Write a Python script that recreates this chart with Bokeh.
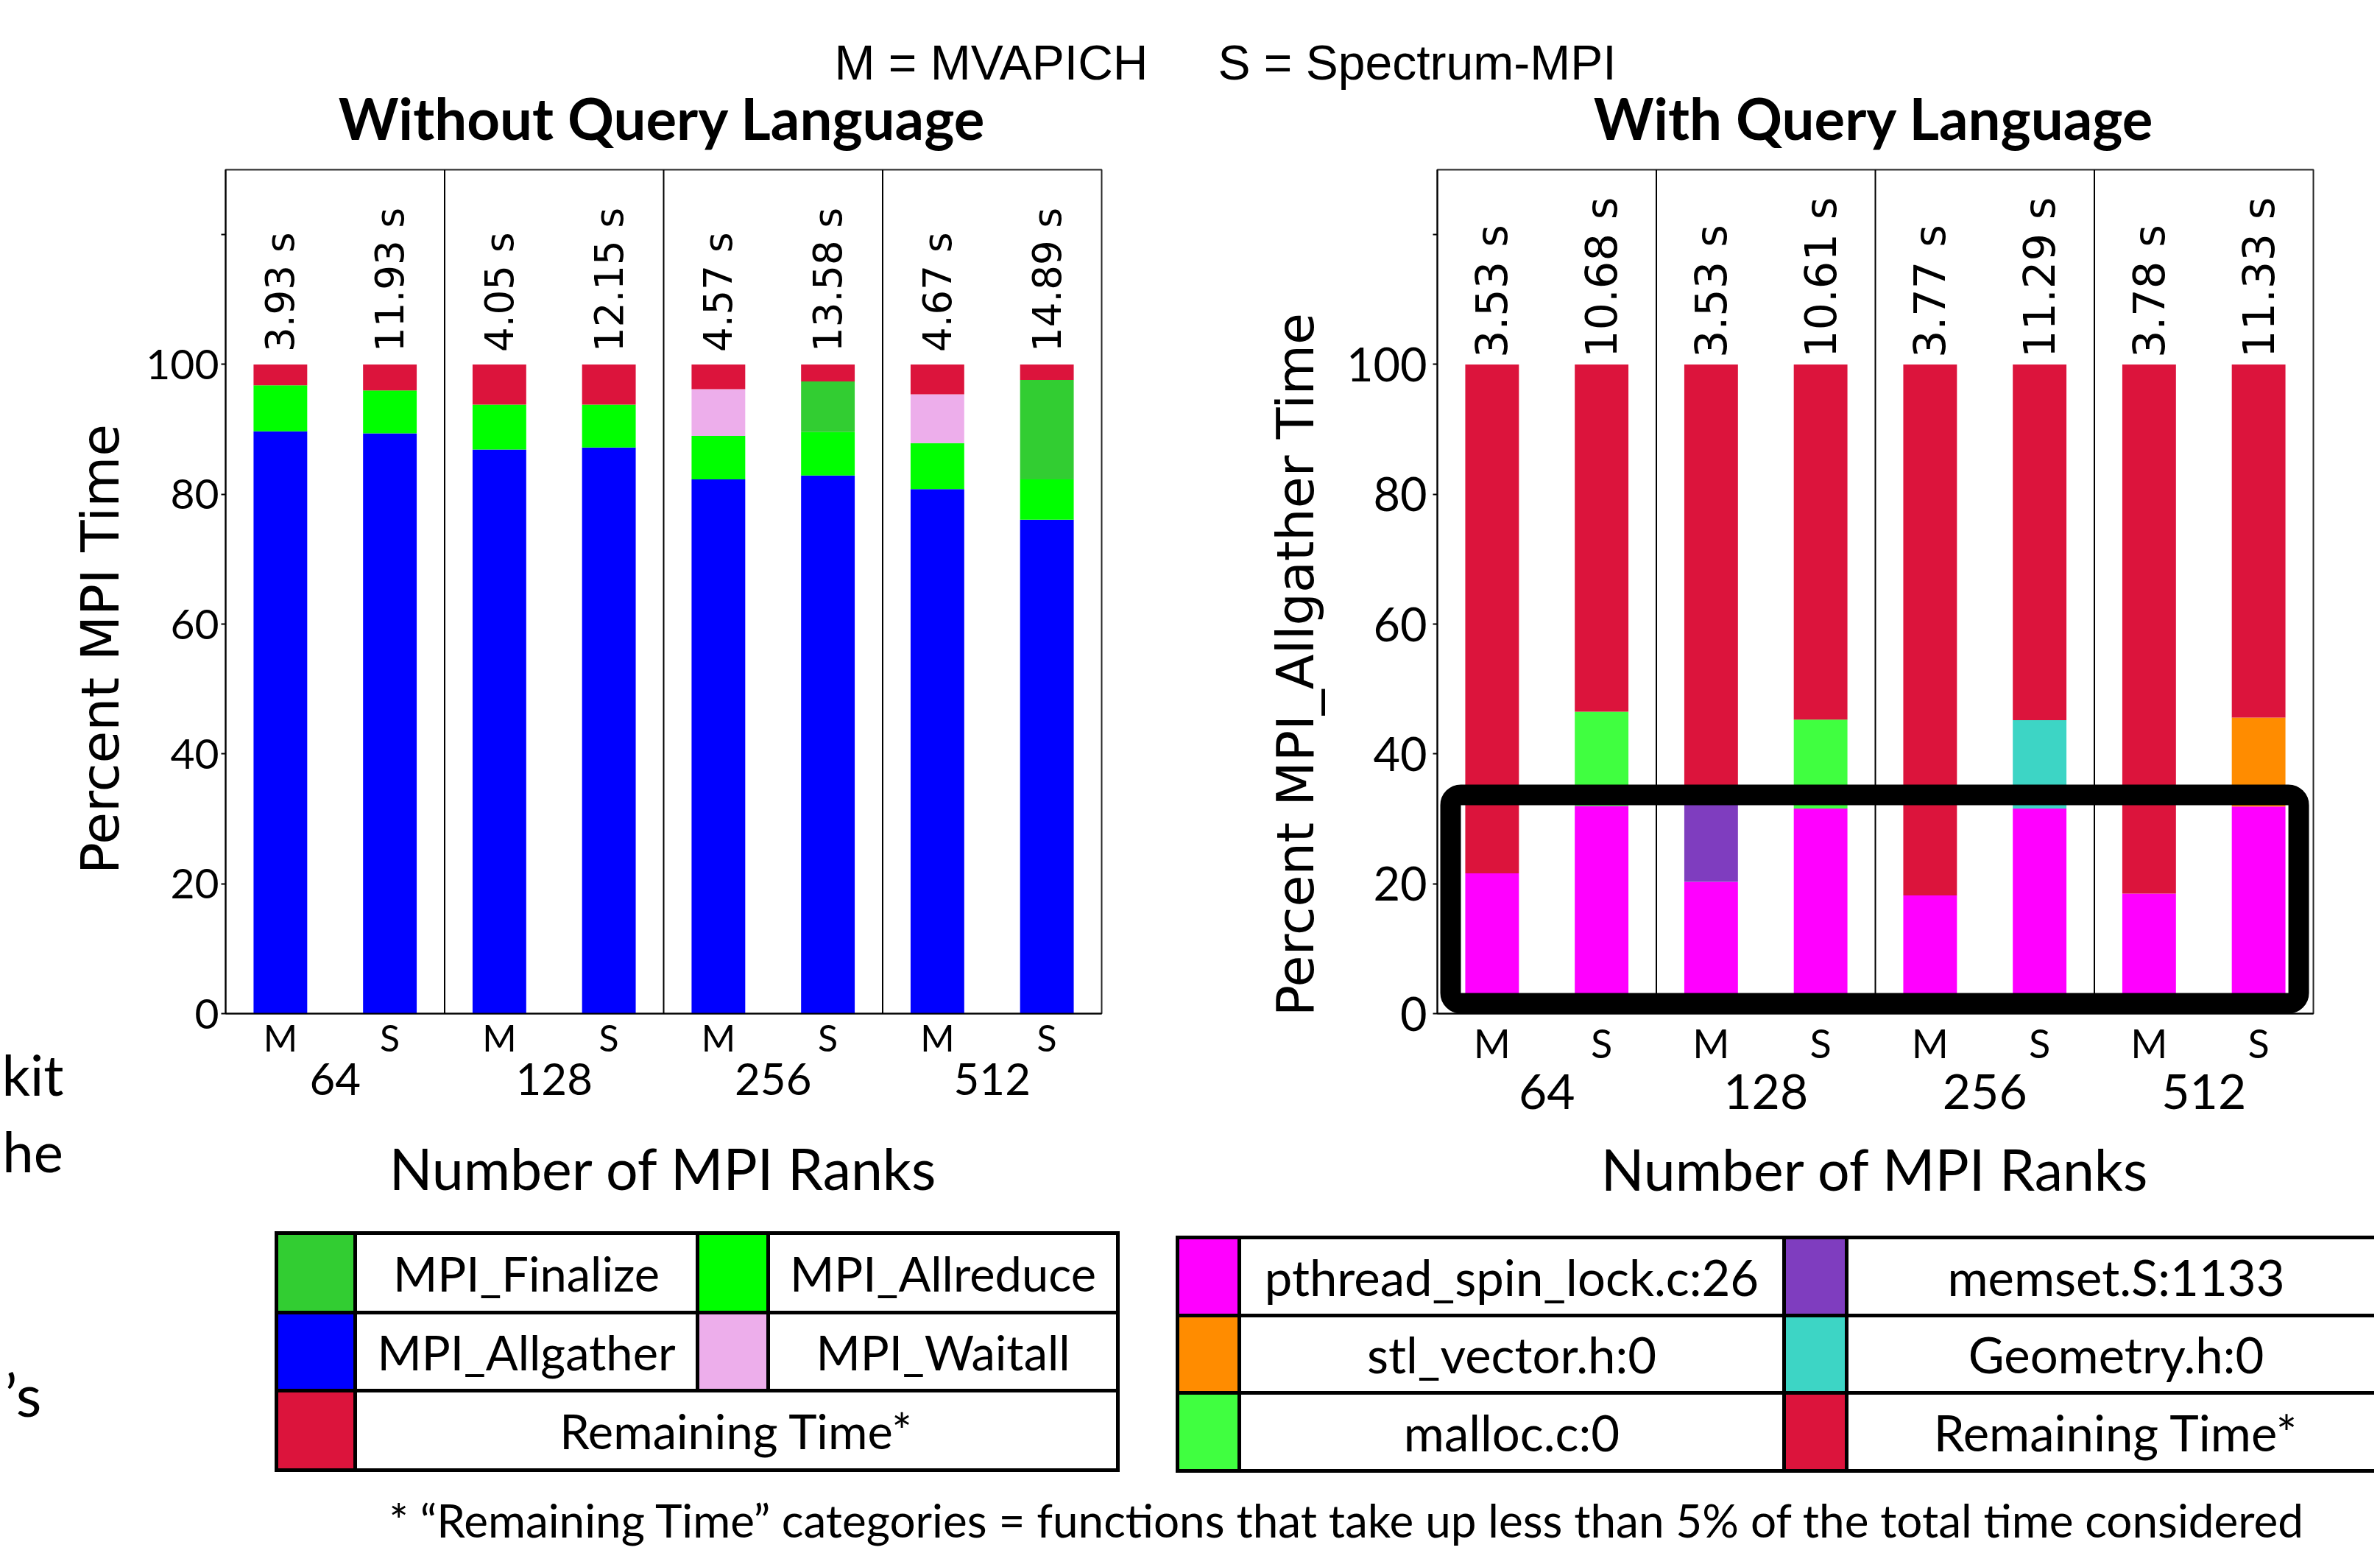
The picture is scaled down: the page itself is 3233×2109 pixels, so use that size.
import math
from bokeh.plotting import figure
from bokeh.models import ColumnDataSource, FactorRange, Range1d, Label, LinearAxis, FixedTicker
from bokeh.layouts import column, row
from bokeh.embed import file_html
from bokeh.resources import INLINE
from bokeh.core.properties import value

# ---------------- data ----------------
ranks = ["64", "128", "256", "512"]
impls = ["M", "S"]

no_ql_allgather = [89.7, 89.4, 86.9, 87.2, 82.3, 82.9, 80.8, 76.1]
no_ql_allreduce = [7.1, 6.6, 6.9, 6.6, 6.7, 6.7, 7.1, 6.2]
no_ql_waitall = [0.0, 0.0, 0.0, 0.0, 7.2, 0.0, 7.5, 0.0]
no_ql_finalize = [0.0, 0.0, 0.0, 0.0, 0.0, 7.8, 0.0, 15.3]
no_ql_remaining = [3.2, 4.0, 6.2, 6.2, 3.8, 2.6, 4.6, 2.4]
no_ql_times = ["3.93 s", "11.93 s", "4.05 s", "12.15 s", "4.57 s", "13.58 s", "4.67 s", "14.89 s"]

ql_pthread = [21.6, 32.0, 20.3, 31.6, 18.2, 31.6, 18.5, 31.9]
ql_memset = [0.0, 0.0, 12.7, 0.0, 0.0, 0.0, 0.0, 0.0]
ql_malloc = [0.0, 14.5, 0.0, 13.7, 0.0, 0.0, 0.0, 0.0]
ql_geometry = [0.0, 0.0, 0.0, 0.0, 0.0, 13.6, 0.0, 0.0]
ql_stlvector = [0.0, 0.0, 0.0, 0.0, 0.0, 0.0, 0.0, 13.7]
ql_remaining = [78.4, 53.5, 67.0, 54.7, 81.8, 54.8, 81.5, 54.4]
ql_times = ["3.53 s", "10.68 s", "3.53 s", "10.61 s", "3.77 s", "11.29 s", "3.78 s", "11.33 s"]

y_ticks = [0, 20, 40, 60, 80, 100, 120]
Y_MAX = 130

C_ALLGATHER = "#0000FF"
C_ALLREDUCE = "#00FF00"
C_WAITALL = "#EDAEEB"
C_FINALIZE = "#32CD32"
C_REMAIN = "#DC143C"
C_PTHREAD = "#FF00FF"
C_MEMSET = "#7F3DBF"
C_MALLOC = "#40FF40"
C_GEOMETRY = "#3DD5C5"
C_STL = "#FF8C00"

no_ql_series = [("MPI_Allgather", no_ql_allgather, C_ALLGATHER),
                ("MPI_Allreduce", no_ql_allreduce, C_ALLREDUCE),
                ("MPI_Waitall", no_ql_waitall, C_WAITALL),
                ("MPI_Finalize", no_ql_finalize, C_FINALIZE),
                ("Remaining Time*", no_ql_remaining, C_REMAIN)]
ql_series = [("pthread_spin_lock.c:26", ql_pthread, C_PTHREAD),
             ("memset.S:1133", ql_memset, C_MEMSET),
             ("malloc.c:0", ql_malloc, C_MALLOC),
             ("Geometry.h:0", ql_geometry, C_GEOMETRY),
             ("stl_vector.h:0", ql_stlvector, C_STL),
             ("Remaining Time*", ql_remaining, C_REMAIN)]

factors = [(r, m) for r in ranks for m in impls]

# ---------------- layout (pixels) ----------------
W, H = 3225, 2101
TOP_H, MID_H = 205, 1457
BOT_H = H - TOP_H - MID_H
MB_TOP, MB_BOT = 25, 286
FR_TOP = TOP_H + MB_TOP
FR_BOT = TOP_H + MID_H - MB_BOT
EDGE_W, YLAB_W, LEFT_W, GAP_W = 88, 102, 1410, 200
MARGIN_W = EDGE_W + YLAB_W
RIGHT_W = W - MARGIN_W - LEFT_W - GAP_W

LATO = value("Lato")
DEJAVU = value("DejaVu Sans")


def blank_fig(w, h, xr, yr, mbt=0, mbb=0, mbr=0):
    p = figure(width=w, height=h, x_range=Range1d(*xr), y_range=Range1d(*yr),
               x_axis_type=None, y_axis_type=None, title=None,
               min_border_left=0, min_border_right=mbr,
               min_border_top=mbt, min_border_bottom=mbb,
               output_backend="svg", toolbar_location=None)
    p.outline_line_color = None
    return p


def lab(p, x, y, text, font, size, align="center", angle=0.0, style="normal"):
    p.add_layout(Label(x=x, y=y, text=text, angle=angle, text_align=align,
                       text_baseline="middle", text_font=font, text_font_size=size,
                       text_font_style=style, text_color="black"))


def label_axis(p, text, size, standoff):
    ax = LinearAxis(ticker=FixedTicker(ticks=[]), axis_label=text,
                    axis_label_standoff=standoff, axis_label_text_font="Lato",
                    axis_label_text_font_size=size, axis_label_text_font_style="normal",
                    axis_label_text_color="black", axis_line_color=None,
                    major_tick_line_color=None, minor_tick_line_color=None,
                    major_tick_out=0, major_tick_in=0, minor_tick_out=0,
                    major_label_standoff=0)
    p.add_layout(ax, "below")


def bar_fig(width, mbl, mbr, series, times, tick_fs, sub_fs, grp_fs, ann_fs,
            ann_off, sub_standoff, ytick_standoff, xlabel_fs, xlabel_standoff):
    xr = FactorRange(factors=factors, factor_padding=0, subgroup_padding=0,
                     group_padding=0, range_padding=0)
    p = figure(x_range=xr, y_range=Range1d(0, Y_MAX), width=width, height=MID_H,
               title=None, min_border_left=mbl, min_border_right=mbr,
               min_border_top=MB_TOP, min_border_bottom=MB_BOT,
               output_backend="svg", toolbar_location=None)
    p.xgrid.visible = False
    p.ygrid.visible = False
    p.outline_line_color = "black"
    p.outline_line_width = 2
    p.outline_line_alpha = 0.85

    data = {"x": factors}
    names = []
    for i, (name, vals, col) in enumerate(series):
        key = "s%d" % i
        data[key] = vals
        names.append(key)
    data["top"] = [sum(v) for v in zip(*[s[1] for s in series])]
    data["label"] = times
    src = ColumnDataSource(data)
    p.vbar_stack(names, x="x", width=0.49, source=src,
                 fill_color=[s[2] for s in series], line_color=None)

    div_x = [(r, impls[0], -0.5) for r in ranks[1:]]
    p.segment(x0=div_x, y0=[0] * len(div_x), x1=div_x, y1=[Y_MAX] * len(div_x),
              line_color="black", line_width=2)

    p.text(x="x", y="top", text="label", source=src, angle=math.pi / 2,
           text_align="left", text_baseline="middle", y_offset=ann_off,
           text_font=DEJAVU, text_font_size=ann_fs, text_color="black")

    p.yaxis.ticker = y_ticks
    p.yaxis.major_label_overrides = {120: ""}
    p.yaxis.minor_tick_line_color = None
    p.yaxis.major_tick_out = 6
    p.yaxis.major_tick_in = 0
    p.yaxis.major_tick_line_width = 2
    p.yaxis.axis_line_width = 2
    p.yaxis.major_label_standoff = ytick_standoff
    p.yaxis.major_label_text_font = "Lato"
    p.yaxis.major_label_text_font_size = tick_fs
    p.yaxis.major_label_text_color = "black"

    p.xaxis.axis_line_width = 2
    p.xaxis.major_tick_line_color = None
    p.xaxis.major_tick_out = 0
    p.xaxis.major_tick_in = 0
    p.xaxis.separator_line_color = None
    p.xaxis.major_label_text_font = "Lato"
    p.xaxis.major_label_text_font_size = sub_fs
    p.xaxis.major_label_text_color = "black"
    p.xaxis.group_text_font = "Lato"
    p.xaxis.group_text_font_size = grp_fs
    p.xaxis.group_text_color = "black"
    p.xaxis.group_text_font_style = "normal"
    p.xaxis.major_label_standoff = sub_standoff
    p.xaxis.axis_label = "Number of MPI Ranks"
    p.xaxis.axis_label_text_font = "Lato"
    p.xaxis.axis_label_text_font_size = xlabel_fs
    p.xaxis.axis_label_text_font_style = "normal"
    p.xaxis.axis_label_text_color = "black"
    p.xaxis.axis_label_standoff = xlabel_standoff
    return p


# ---------------- top strip ----------------
top = blank_fig(W, TOP_H, (0, W), (TOP_H, 0))
lab(top, 1133, 84, "M = MVAPICH", "Liberation Sans", "66px", align="left")
lab(top, 1654, 84, "S = Spectrum-MPI", "Liberation Sans", "66px", align="left")
lab(top, 899, 159, "Without Query Language", "Lato", "78px", style="bold")
lab(top, 2545, 159, "With Query Language", "Lato", "78px", style="bold")

# ---------------- left edge: words of the surrounding slide ----------------
edge = blank_fig(EDGE_W, MID_H, (0, EDGE_W), (FR_BOT, FR_TOP), MB_TOP, MB_BOT)
label_axis(edge, "kit", "76px", 36)
label_axis(edge, "he", "76px", 10)

# ---------------- left y label ----------------
ylab = blank_fig(YLAB_W, MID_H, (EDGE_W, MARGIN_W), (FR_BOT, FR_TOP), MB_TOP, MB_BOT)
lab(ylab, 136, 881, "Percent MPI Time", "DejaVu Sans", "71px", angle=math.pi / 2)

# ---------------- left chart ----------------
left = bar_fig(LEFT_W, 306 - MARGIN_W, MARGIN_W + LEFT_W - 1496, no_ql_series, no_ql_times,
               tick_fs="57px", sub_fs="50px", grp_fs="60px", ann_fs="53px", ann_off=-17,
               sub_standoff=2, ytick_standoff=3, xlabel_fs="77px", xlabel_standoff=50)

# ---------------- gap (right y label) ----------------
x_gap0 = MARGIN_W + LEFT_W
gap = blank_fig(GAP_W, MID_H, (x_gap0, x_gap0 + GAP_W), (FR_BOT, FR_TOP), MB_TOP, MB_BOT)
lab(gap, 1759, 902, "Percent MPI_Allgather Time", "DejaVu Sans", "70px", angle=math.pi / 2)

# ---------------- right chart ----------------
x_r0 = x_gap0 + GAP_W
right = bar_fig(RIGHT_W, 1952 - x_r0, W - 3142, ql_series, ql_times,
                tick_fs="63px", sub_fs="54px", grp_fs="66px", ann_fs="59px", ann_off=-9,
                sub_standoff=7, ytick_standoff=8, xlabel_fs="77px", xlabel_standoff=32)
right.quad(left=[(ranks[0], impls[0], -0.379)], right=[(ranks[-1], impls[-1], 0.366)],
           bottom=[1.6], top=[33.7], fill_color=None, line_color="black",
           line_width=28, line_join="round", border_radius=14)

# ---------------- bottom: legend tables + footnote ----------------
y_b0 = TOP_H + MID_H
bottom = blank_fig(W, BOT_H, (0, W), (H, y_b0))


def draw_table(p, xs, ys, rows, fs):
    sl, sr, st, sb, sc = [], [], [], [], []
    tx, ty, tt = [], [], []
    x0, y0, x1, y1 = [], [], [], []
    for r, items in enumerate(rows):
        t_, b_ = ys[r], ys[r + 1]
        spans = [(0, 1, 2), (2, 3, 4)] if len(items) == 2 else [(0, 1, len(xs) - 1)]
        for (label, colr), (c0, c1, c2) in zip(items, spans):
            sl.append(xs[c0]); sr.append(xs[c1]); st.append(t_); sb.append(b_); sc.append(colr)
            tx.append((xs[c1] + xs[c2]) / 2); ty.append((t_ + b_) / 2); tt.append(label)
            for c in (c0, c1):
                x0.append(xs[c]); x1.append(xs[c]); y0.append(t_); y1.append(b_)
        x0.append(xs[-1]); x1.append(xs[-1]); y0.append(t_); y1.append(b_)
    for yv in ys:
        x0.append(xs[0]); x1.append(xs[-1]); y0.append(yv); y1.append(yv)
    p.quad(left=sl, right=sr, top=st, bottom=sb, fill_color=sc, line_color=None)
    p.segment(x0=x0, y0=y0, x1=x1, y1=y1, line_color="black", line_width=5,
              line_cap="square")
    p.text(x=tx, y=ty, text=tt, text_align="center", text_baseline="middle",
           text_font=LATO, text_font_size=fs, text_color="black")


def entry(series, i):
    return (series[i][0], series[i][2])


left_rows = [[entry(no_ql_series, 3), entry(no_ql_series, 1)],
             [entry(no_ql_series, 0), entry(no_ql_series, 2)],
             [entry(no_ql_series, 4)]]
right_rows = [[entry(ql_series, 0), entry(ql_series, 1)],
              [entry(ql_series, 4), entry(ql_series, 3)],
              [entry(ql_series, 2), entry(ql_series, 5)]]

draw_table(bottom, [375, 482, 947, 1043, 1518], [1674, 1782, 1888, 1996], left_rows, "65px")
draw_table(bottom, [1599, 1683, 2423, 2508, 3240], [1680, 1786, 1891, 1997], right_rows, "67px")

lab(bottom, 1830, 2063,
    "* \u201cRemaining Time\u201d categories = functions that take up less than 5% of the total time considered",
    "Lato", "62px")
lab(bottom, 56, 1892, "\u2019s", "Lato", "80px", align="right")

layout = column(top, row(edge, ylab, left, gap, right), bottom)
open("out.html", "w").write(file_html(layout, INLINE))
